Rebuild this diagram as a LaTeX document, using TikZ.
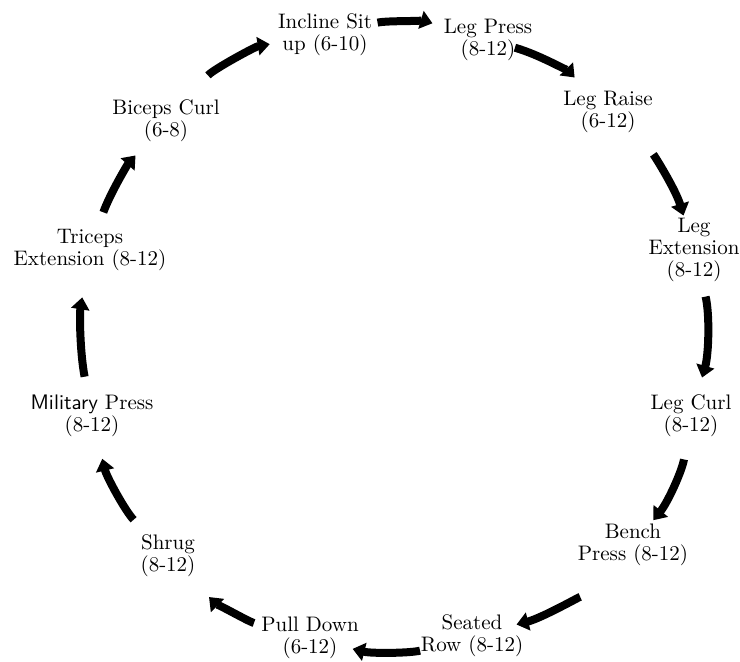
\documentclass[tikz,border=0pt]{standalone}
\usetikzlibrary{arrows.meta}

\begin{document}
\begin{tikzpicture}[x=0.5pt,y=-0.5pt,
	flow/.style={-{Triangle[width=9pt,length=6pt]},line width=4pt,bend left=15},
	every node/.style={align=center,font=\fontsize{10.5}{11}\selectfont}]
	\useasboundingbox (0,0) rectangle (740,661);
	
	\node (incline)  at (325,35)  {Incline Sit\\up (6-10)};
	\node (legpress) at (488,40)  {Leg Press\\(8-12)};
	\node (legraise) at (608,112) {Leg Raise\\(6-12)};
	\node (legext)   at (694,250) {Leg\\Extension\\(8-12)};
	\node (legcurl)  at (691,416) {Leg Curl\\(8-12)};
	\node (bench)    at (633,545) {Bench\\Press (8-12)};
	\node (seated)   at (472,636) {Seated\\Row (8-12)};
	\node (pulldown) at (310,638) {Pull Down\\(6-12)};
	\node (shrug)    at (168,556) {Shrug\\(8-12)};
	\node (military) at (92,416)  {\textsf{Military} Press\\(8-12)};
	\node (triceps)  at (90,250)  {Triceps\\Extension (8-12)};
	\node (biceps)   at (166,121) {Biceps Curl\\(6-8)};
	
	\path[flow] (incline.center)  edge[shorten <=27pt,shorten >=29pt] (legpress.center)
	            (legpress.center) edge[shorten <=14pt,shorten >=24pt] (legraise.center)
	            (legraise.center) edge[shorten <=31pt,shorten >=18pt] (legext.center)
	            (legext.center)   edge[shorten <=24pt,shorten >=20pt] (legcurl.center)
	            (legcurl.center)  edge[shorten <=22pt,shorten >=16pt] (bench.center)
	            (bench.center)    edge[shorten <=37pt,shorten >=23pt] (seated.center)
	            (seated.center)   edge[shorten <=27pt,shorten >=22pt] (pulldown.center)
	            (pulldown.center) edge[shorten <=29pt,shorten >=29pt] (shrug.center)
	            (shrug.center)    edge[shorten <=25pt,shorten >=22pt] (military.center)
	            (military.center) edge[shorten <=20pt,shorten >=24pt,bend left=10] (triceps.center)
	            (triceps.center)  edge[shorten <=20pt,shorten >=23pt,bend left=11] (biceps.center)
	            (biceps.center)   edge[shorten <=31pt,shorten >=28pt,bend left=19] (incline.center);
\end{tikzpicture}
\end{document}
